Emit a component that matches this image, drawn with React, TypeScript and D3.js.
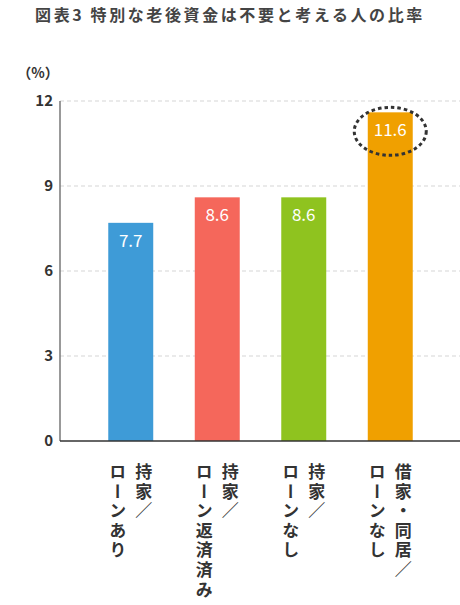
import React from "react";
import * as d3 from "d3";

const categories = ["持家／ローンあり", "持家／ローン返済済み", "持家／ローンなし", "借家・同居／ローンなし"];
const labelLines = [["持家／", "ローンあり"], ["持家／", "ローン返済済み"], ["持家／", "ローンなし"], ["借家・同居／", "ローンなし"]];
const values = [7.7, 8.6, 8.6, 11.6];
const colors = ["#3e9bd7", "#f5675b", "#8fc31f", "#f0a000"];
const yTicks = [0, 3, 6, 9, 12];
const title = "図表3 特別な老後資金は不要と考える人の比率";
const unit = "（%）";

const W = 460, H = 605;
const font = "'Noto Sans CJK JP', 'Noto Sans', sans-serif";

export default function App() {
  const x = d3.scaleBand<string>().domain(categories).range([87.5, 433.5]).paddingInner(0.48).paddingOuter(0.24);
  const y = d3.scaleLinear().domain([0, 12]).range([441, 101]);
  const bw = x.bandwidth();
  return (
    <svg width={W} height={H} style={{ position: "absolute", left: 0, top: 0, fontFamily: font }}>
      <rect width={W} height={H} fill="#fff" />
      <text x={230} y={21} textAnchor="middle" fontSize={16} fontWeight="bold" fill="#444" letterSpacing={2.6}>{title}</text>
      <text x={38} y={78} textAnchor="middle" fontSize={14} fontWeight="bold" fill="#333">{unit}</text>
      {yTicks.map(t => (
        <g key={t}>
          {t > 0 && <line x1={60} x2={460} y1={y(t)} y2={y(t)} stroke="#d5d5d5" strokeWidth={1} strokeDasharray="4 3" />}
          <text x={53} y={y(t) + 5} textAnchor="end" fontSize={15} fontWeight="bold" fill="#333">{t}</text>
        </g>
      ))}
      {categories.map((c, i) => (
        <g key={c}>
          <rect x={x(c)!} y={y(values[i])} width={bw} height={y(0) - y(values[i])} fill={colors[i]} />
          <text x={x(c)! + bw / 2} y={y(values[i]) + 24} textAnchor="middle" fontSize={17} fill="#fff">{values[i].toFixed(1)}</text>
        </g>
      ))}
      <line x1={60} x2={60} y1={101} y2={441} stroke="#777" strokeWidth={1.5} />
      <line x1={60} x2={460} y1={441} y2={441} stroke="#333" strokeWidth={1.5} />
      <ellipse cx={x(categories[3])! + bw / 2} cy={y(values[3]) + 19} rx={36} ry={24} fill="none" stroke="#333" strokeWidth={3} strokeDasharray="3.5 3" />
      {categories.map((c, i) => {
        const cx = x(c)! + bw / 2;
        return labelLines[i].map((line, j) => (
          <text key={c + j} x={cx + (j === 0 ? 13 : -13)} y={463} fontSize={17} fontWeight="bold" fill="#333"
            style={{ writingMode: "vertical-rl", textOrientation: "upright" } as any} letterSpacing={2.6}>{line}</text>
        ));
      })}
    </svg>
  );
}
